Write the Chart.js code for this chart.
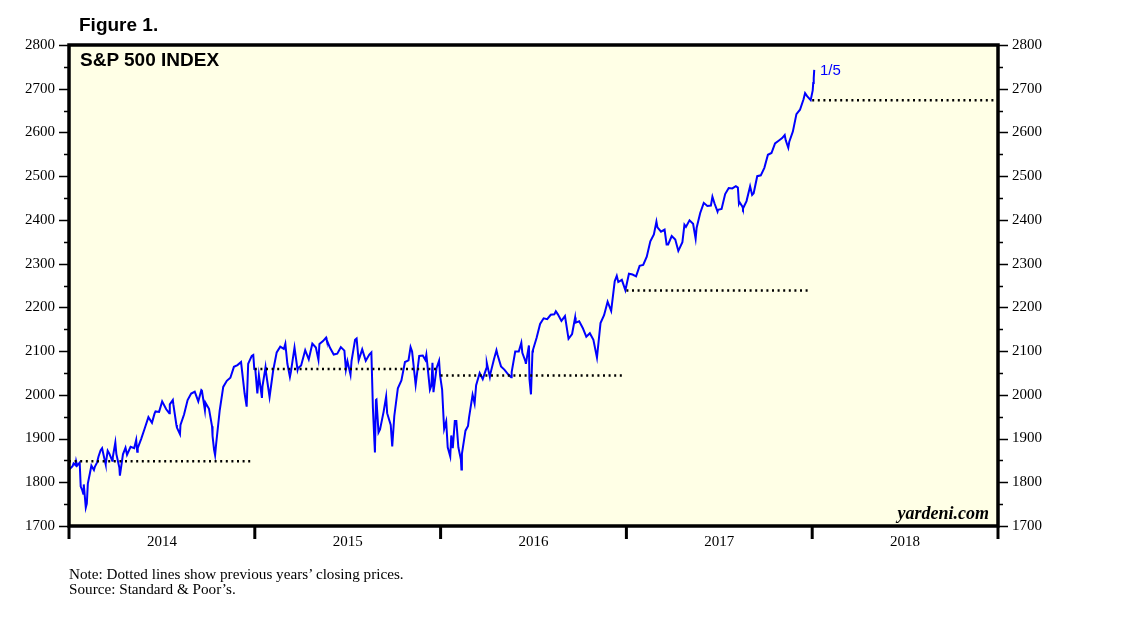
<!DOCTYPE html>
<html>
<head>
<meta charset="utf-8">
<script src="https://cdn.jsdelivr.net/npm/chart.js@4.4.1/dist/chart.umd.min.js"></script>
<style>
  html, body { margin: 0; padding: 0; background: #fff; }
  #wrap { position: relative; width: 1138px; height: 621px; }
  canvas { position: absolute; left: 0; top: 0; }
  .txt { position: absolute; white-space: nowrap; }
  #fig { left: 79px; top: 14px; font: bold 19px "Liberation Sans", Arial, sans-serif; }
  #ttl { left: 80px; top: 49px; font: bold 19px "Liberation Sans", Arial, sans-serif; }
  #last { left: 820px; top: 61px; font: 15px "Liberation Sans", Arial, sans-serif; color: #0000ff; }
  #brand { right: 149px; top: 503px; font: bold italic 18px "Liberation Serif", "Times New Roman", serif; }
  #note { left: 69px; top: 567px; font: 15.2px "Liberation Serif", "Times New Roman", serif; line-height: 14.5px; }
</style>
</head>
<body>
<div id="wrap">
  <canvas id="spx" width="1138" height="621"></canvas>
  <div class="txt" id="fig">Figure 1.</div>
  <div class="txt" id="ttl">S&amp;P 500 INDEX</div>
  <div class="txt" id="last">1/5</div>
  <div class="txt" id="brand">yardeni.com</div>
  <div class="txt" id="note">Note: Dotted lines show previous years’ closing prices.<br>Source: Standard &amp; Poor’s.</div>
</div>
<script>
// S&P 500 closes (weekly plus notable swings)
const spxDates = [
  "2014-01-02","2014-01-03","2014-01-08","2014-01-10","2014-01-14","2014-01-15","2014-01-17","2014-01-22","2014-01-24","2014-01-27",
  "2014-01-29","2014-01-30","2014-01-31","2014-02-03","2014-02-05","2014-02-07","2014-02-11","2014-02-14","2014-02-19","2014-02-21",
  "2014-02-25","2014-02-28","2014-03-04","2014-03-07","2014-03-13","2014-03-14","2014-03-18","2014-03-21","2014-03-27","2014-03-28",
  "2014-04-02","2014-04-04","2014-04-10","2014-04-11","2014-04-17","2014-04-22","2014-04-25","2014-05-02","2014-05-09","2014-05-13",
  "2014-05-15","2014-05-16","2014-05-23","2014-05-30","2014-06-06","2014-06-13","2014-06-18","2014-06-20","2014-06-27","2014-07-03",
  "2014-07-11","2014-07-17","2014-07-18","2014-07-24","2014-07-25","2014-07-31","2014-08-01","2014-08-07","2014-08-08","2014-08-15",
  "2014-08-22","2014-08-29","2014-09-05","2014-09-12","2014-09-18","2014-09-19","2014-09-25","2014-09-26","2014-10-03","2014-10-09",
  "2014-10-10","2014-10-13","2014-10-15","2014-10-17","2014-10-24","2014-10-31","2014-11-07","2014-11-14","2014-11-21","2014-11-28",
  "2014-12-05","2014-12-12","2014-12-16","2014-12-19","2014-12-26","2014-12-29","2014-12-31",
  "2015-01-02","2015-01-06","2015-01-09","2015-01-15","2015-01-16","2015-01-22","2015-01-23","2015-01-30","2015-02-06","2015-02-13",
  "2015-02-20","2015-02-27","2015-03-02","2015-03-06","2015-03-11","2015-03-13","2015-03-20","2015-03-26","2015-03-27","2015-04-02",
  "2015-04-10","2015-04-17","2015-04-24","2015-05-01","2015-05-06","2015-05-08","2015-05-15","2015-05-21","2015-05-22","2015-05-29",
  "2015-06-05","2015-06-12","2015-06-19","2015-06-26","2015-06-29","2015-07-02","2015-07-08","2015-07-10","2015-07-17","2015-07-20",
  "2015-07-24","2015-07-31","2015-08-07","2015-08-14","2015-08-18","2015-08-21","2015-08-24","2015-08-25","2015-08-27","2015-08-28",
  "2015-09-01","2015-09-04","2015-09-11","2015-09-16","2015-09-18","2015-09-25","2015-09-28","2015-10-02","2015-10-09","2015-10-16",
  "2015-10-23","2015-10-30","2015-11-03","2015-11-06","2015-11-13","2015-11-20","2015-11-27","2015-12-02","2015-12-04","2015-12-11",
  "2015-12-14","2015-12-16","2015-12-18","2015-12-24","2015-12-29","2015-12-31",
  "2016-01-04","2016-01-07","2016-01-08","2016-01-12","2016-01-15","2016-01-20","2016-01-22","2016-01-25","2016-01-29","2016-02-01",
  "2016-02-05","2016-02-10","2016-02-11","2016-02-12","2016-02-19","2016-02-24","2016-02-26","2016-03-04","2016-03-08","2016-03-11",
  "2016-03-18","2016-03-24","2016-03-31","2016-04-01","2016-04-07","2016-04-08","2016-04-15","2016-04-20","2016-04-22","2016-04-29",
  "2016-05-06","2016-05-13","2016-05-19","2016-05-20","2016-05-27","2016-06-03","2016-06-08","2016-06-10","2016-06-16","2016-06-17",
  "2016-06-23","2016-06-24","2016-06-27","2016-06-30","2016-07-01","2016-07-08","2016-07-15","2016-07-22","2016-07-29","2016-08-05",
  "2016-08-12","2016-08-15","2016-08-19","2016-08-26","2016-09-02","2016-09-09","2016-09-16","2016-09-22","2016-09-23","2016-09-30",
  "2016-10-07","2016-10-14","2016-10-21","2016-10-28","2016-11-04","2016-11-11","2016-11-18","2016-11-25","2016-12-02","2016-12-09",
  "2016-12-13","2016-12-16","2016-12-23","2016-12-30",
  "2017-01-06","2017-01-13","2017-01-20","2017-01-27","2017-02-03","2017-02-10","2017-02-17","2017-02-24","2017-03-01","2017-03-03",
  "2017-03-10","2017-03-17","2017-03-21","2017-03-24","2017-03-31","2017-04-07","2017-04-13","2017-04-21","2017-04-25","2017-04-28",
  "2017-05-05","2017-05-12","2017-05-17","2017-05-19","2017-05-26","2017-06-02","2017-06-09","2017-06-16","2017-06-19","2017-06-23",
  "2017-06-29","2017-06-30","2017-07-07","2017-07-14","2017-07-21","2017-07-28","2017-08-04","2017-08-08","2017-08-10","2017-08-11",
  "2017-08-17","2017-08-18","2017-08-25","2017-09-01","2017-09-05","2017-09-08","2017-09-15","2017-09-22","2017-09-29","2017-10-06",
  "2017-10-13","2017-10-20","2017-10-27","2017-11-03","2017-11-08","2017-11-10","2017-11-15","2017-11-17","2017-11-24","2017-12-01",
  "2017-12-08","2017-12-15","2017-12-18","2017-12-22","2017-12-29",
  "2018-01-02","2018-01-03","2018-01-04","2018-01-05"
];
const spxCloses = [
  1832,1831,1837,1843,1839,1848,1838,1845,1790,1782,
  1774,1795,1782,1742,1751,1797,1820,1838,1828,1836,
  1845,1859,1873,1878,1846,1841,1872,1866,1849,1857,
  1891,1865,1833,1815,1864,1879,1863,1881,1878,1897,
  1870,1878,1900,1924,1949,1936,1957,1962,1961,1985,
  1967,1958,1978,1988,1978,1931,1925,1910,1931,1955,
  1988,2003,2007,1985,2011,2010,1965,1982,1968,1928,
  1906,1874,1862,1887,1964,2018,2032,2039,2064,2068,
  2075,2003,1973,2071,2089,2091,2059,
  2058,2003,2045,1993,2019,2063,2051,1995,2055,2097,
  2110,2105,2117,2071,2041,2053,2108,2057,2061,2067,
  2102,2081,2117,2108,2080,2116,2123,2131,2126,2107,
  2092,2094,2109,2101,2058,2077,2046,2077,2126,2129,
  2079,2104,2078,2092,2097,1971,1893,1868,1988,1989,
  1914,1921,1961,1996,1958,1931,1882,1951,2015,2033,
  2075,2079,2109,2099,2023,2089,2090,2080,2092,2012,
  2022,2073,2006,2061,2078,2044,
  2012,1943,1922,1939,1880,1859,1907,1878,1940,1940,
  1880,1852,1829,1865,1918,1929,1948,2000,1980,2022,
  2050,2036,2060,2073,2041,2048,2081,2102,2092,2065,
  2057,2047,2040,2052,2099,2099,2119,2096,2077,2071,
  2113,2037,2001,2099,2103,2130,2162,2175,2173,2183,
  2184,2191,2184,2169,2180,2128,2139,2177,2165,2168,
  2153,2133,2141,2126,2085,2164,2182,2213,2192,2260,
  2272,2258,2263,2239,
  2277,2275,2271,2295,2297,2316,2351,2367,2396,2383,
  2373,2378,2344,2344,2363,2355,2329,2349,2389,2384,
  2399,2391,2357,2382,2416,2439,2432,2433,2453,2438,
  2419,2423,2425,2459,2473,2472,2477,2474,2438,2441,
  2430,2426,2443,2477,2457,2461,2500,2502,2519,2549,
  2553,2575,2581,2587,2594,2582,2565,2579,2602,2642,
  2652,2676,2690,2683,2674,
  2696,2713,2724,2743
];

// previous year's closing price, shown as a dotted line across each year
const closeYears = [2014, 2015, 2016, 2017, 2018];
const prevYearCloses = [1848.36, 2058.90, 2043.94, 2238.83, 2673.61];

const yearLabels = ["2014", "2015", "2016", "2017", "2018"];

function toYearFrac(s) {
    const [y, m, d] = s.split("-").map(Number);
    const start = Date.UTC(y, 0, 1);
    const len = Date.UTC(y + 1, 0, 1) - start;
    return y + (Date.UTC(y, m - 1, d) - start) / len;
}

const PLOT_BG = "#FFFFE6";
const SERIF = '"Liberation Serif", "Times New Roman", serif';

// background, frame and tick marks (major/minor ticks have different lengths)
const framePlugin = {
    id: "frame",
    beforeDraw(chart) {
        const { ctx, chartArea: a } = chart;
        ctx.save();
        ctx.fillStyle = PLOT_BG;
        ctx.fillRect(a.left, a.top, a.right - a.left, a.bottom - a.top);
        ctx.restore();
    },
    afterDraw(chart) {
        const { ctx, chartArea: a } = chart;
        const ys = chart.scales.y;
        const xs = chart.scales.x;
        ctx.save();
        ctx.strokeStyle = "#000";

        ctx.lineWidth = 1.5;
        for (let v = 1700; v <= 2800; v += 50) {
            const py = Math.round(ys.getPixelForValue(v)) + 0.5;
            const len = v % 100 === 0 ? 10 : 5;
            ctx.beginPath();
            ctx.moveTo(a.left - len, py); ctx.lineTo(a.left, py);
            ctx.moveTo(a.right, py); ctx.lineTo(a.right + len, py);
            ctx.stroke();
        }

        ctx.lineWidth = 3;
        for (let yr = 2014; yr <= 2019; yr++) {
            const px = xs.getPixelForValue(yr);
            ctx.beginPath();
            ctx.moveTo(px, a.bottom); ctx.lineTo(px, a.bottom + 13);
            ctx.stroke();
        }

        ctx.lineWidth = 3.5;
        ctx.strokeRect(a.left, a.top, a.right - a.left, a.bottom - a.top);
        ctx.restore();
    }
};

const spxPoints = spxDates.map((d, i) => ({ x: toYearFrac(d), y: spxCloses[i] }));

const dottedSets = closeYears.map((yr, i) => ({
    label: "Close " + (yr - 1),
    data: [{ x: yr, y: prevYearCloses[i] }, { x: yr + 1 - 0.012, y: prevYearCloses[i] }],
    borderColor: "#000",
    borderWidth: 2.5,
    borderDash: [2, 3.6],
    pointRadius: 0,
    fill: false,
    order: 0
}));

new Chart(document.getElementById("spx"), {
    type: "line",
    data: {
        datasets: [
            ...dottedSets,
            {
                label: "S&P 500",
                data: spxPoints,
                borderColor: "#0000FF",
                borderWidth: 2,
                pointRadius: 0,
                tension: 0,
                fill: false,
                order: 1
            }
        ]
    },
    options: {
        responsive: false,
        animation: false,
        devicePixelRatio: 1,
        layout: { padding: { top: 45, left: 0, right: 0, bottom: 0 } },
        plugins: {
            legend: { display: false },
            tooltip: { enabled: false }
        },
        scales: {
            x: {
                type: "linear",
                min: 2014,
                max: 2019,
                afterFit(scale) { scale.height = 95; },
                afterBuildTicks(scale) {
                    scale.ticks = yearLabels.map((_, i) => ({ value: 2014.5 + i }));
                },
                grid: { display: false, drawTicks: false },
                border: { display: false },
                ticks: {
                    autoSkip: false,
                    maxRotation: 0,
                    padding: 7,
                    color: "#000",
                    font: { family: SERIF, size: 15 },
                    callback: (v) => yearLabels[Math.floor(v) - 2014]
                }
            },
            y: {
                position: "left",
                min: 1700,
                max: 2800,
                afterFit(scale) { scale.width = 69; },
                grid: { display: false, drawTicks: false },
                border: { display: false },
                ticks: {
                    stepSize: 100,
                    padding: 14,
                    color: "#000",
                    font: { family: SERIF, size: 15 },
                    callback: (v) => String(v)
                }
            },
            y2: {
                position: "right",
                min: 1700,
                max: 2800,
                afterFit(scale) { scale.width = 140; },
                grid: { display: false, drawTicks: false },
                border: { display: false },
                ticks: {
                    stepSize: 100,
                    padding: 14,
                    color: "#000",
                    font: { family: SERIF, size: 15 },
                    callback: (v) => String(v)
                }
            }
        }
    },
    plugins: [framePlugin]
});
</script>
</body>
</html>
